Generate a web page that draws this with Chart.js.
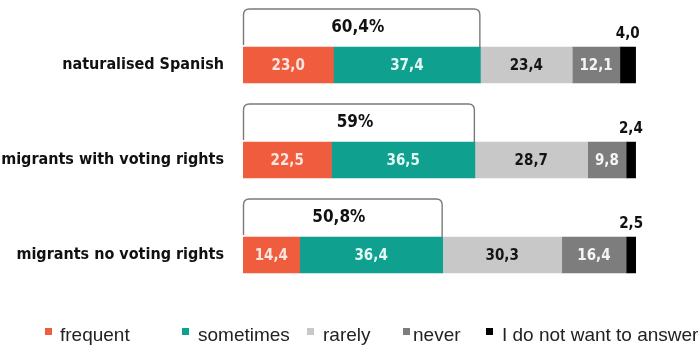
<!DOCTYPE html>
<html>
<head>
<meta charset="utf-8">
<script src="https://cdn.jsdelivr.net/npm/chart.js@4/dist/chart.umd.min.js"></script>
<style>
  html, body { margin: 0; padding: 0; background: #ffffff; }
  #chart { display: block; }
</style>
</head>
<body>
<canvas id="chart" width="699" height="345"></canvas>
<script>
// Survey groups and answer shares (%)
const categories = ['naturalised Spanish', 'migrants with voting rights', 'migrants no voting rights'];
const seriesLabels = ['frequent', 'sometimes', 'rarely', 'never', 'I do not want to answer'];
const frequent  = [23.0, 22.5, 14.4];
const sometimes = [37.4, 36.5, 36.4];
const rarely    = [23.4, 28.7, 30.3];
const never     = [12.1, 9.8, 16.4];
const noAnswer  = [4.0, 2.4, 2.5];

const seriesValues = [frequent, sometimes, rarely, never, noAnswer];
const seriesColors = ['#F05D3E', '#0FA08F', '#C8C8C8', '#7D7D7D', '#000000'];
const valueColors  = ['#FCE6DF', '#E4F8F4', '#151515', '#F4F4F4', '#111111'];

const boldFont = '"DejaVu Sans Condensed", "DejaVu Sans", sans-serif';

function fmt(v) {
  return v.toFixed(1).replace('.', ',');
}
function fmtTotal(v) {
  const r = Math.round(v * 10) / 10;
  return (Number.isInteger(r) ? String(r) : r.toFixed(1).replace('.', ',')) + '%';
}

// Numbers inside the segments, and the small last share written above the bar
const valueLabels = {
  id: 'valueLabels',
  afterDatasetsDraw(chart) {
    const ctx = chart.ctx;
    ctx.save();
    ctx.textAlign = 'center';
    ctx.textBaseline = 'middle';
    chart.data.datasets.forEach((ds, di) => {
      const meta = chart.getDatasetMeta(di);
      meta.data.forEach((bar, i) => {
        const v = ds.data[i];
        const cx = (bar.x + bar.base) / 2;
        ctx.font = 'bold 15px ' + boldFont;
        if (di === 4) {
          ctx.fillStyle = '#111111';
          ctx.fillText(fmt(v), cx, bar.y - bar.height / 2 - 13);
        } else {
          ctx.fillStyle = valueColors[di];
          ctx.fillText(fmt(v), cx, bar.y + 1);
        }
      });
    });
    ctx.restore();
  }
};

// Rounded bracket over "frequent + sometimes" with its combined share
const brackets = {
  id: 'brackets',
  afterDatasetsDraw(chart) {
    const ctx = chart.ctx;
    const xs = chart.scales.x;
    const meta = chart.getDatasetMeta(0);
    ctx.save();
    meta.data.forEach((bar, i) => {
      const total = frequent[i] + sometimes[i];
      const x0 = xs.getPixelForValue(0) + 0.5;
      const x1 = xs.getPixelForValue(total) - 0.5;
      const barTop = bar.y - bar.height / 2;
      const top = barTop - 38;
      const r = 6;
      ctx.strokeStyle = '#7A7A7A';
      ctx.lineWidth = 1.4;
      ctx.beginPath();
      ctx.moveTo(x0, barTop - 2);
      ctx.lineTo(x0, top + r);
      ctx.quadraticCurveTo(x0, top, x0 + r, top);
      ctx.lineTo(x1 - r, top);
      ctx.quadraticCurveTo(x1, top, x1, top + r);
      ctx.lineTo(x1, barTop);
      ctx.stroke();
      ctx.font = 'bold 17px ' + boldFont;
      ctx.fillStyle = '#111111';
      ctx.textAlign = 'center';
      ctx.textBaseline = 'middle';
      ctx.fillText(fmtTotal(total), (x0 + x1) / 2 - 4, barTop - 19);
    });
    ctx.restore();
  }
};

// Legend row along the bottom edge
const bottomLegend = {
  id: 'bottomLegend',
  afterDraw(chart) {
    const ctx = chart.ctx;
    const starts = [45, 182, 307, 403, 486];
    const gaps = [15, 16, 16, 10, 16];
    ctx.save();
    ctx.font = '19px "Liberation Sans", Arial, sans-serif';
    ctx.textBaseline = 'alphabetic';
    ctx.textAlign = 'left';
    seriesLabels.forEach((label, i) => {
      ctx.fillStyle = seriesColors[i];
      ctx.fillRect(starts[i], 328, 7, 7);
      ctx.fillStyle = '#222222';
      ctx.fillText(label, starts[i] + gaps[i], 341);
    });
    ctx.restore();
  }
};

new Chart(document.getElementById('chart'), {
  type: 'bar',
  data: {
    labels: categories,
    datasets: seriesLabels.map((label, i) => ({
      label: label,
      data: seriesValues[i],
      backgroundColor: seriesColors[i],
      borderWidth: 0,
      barThickness: 36
    }))
  },
  options: {
    indexAxis: 'y',
    responsive: false,
    animation: false,
    layout: { padding: { top: 17.5, bottom: 42.5, left: 0, right: 63 } },
    plugins: {
      legend: { display: false },
      tooltip: { enabled: false }
    },
    scales: {
      x: {
        stacked: true,
        min: 0,
        max: 100,
        display: false
      },
      y: {
        stacked: true,
        grid: { display: false, drawTicks: false },
        border: { display: false },
        afterFit(scale) {
          scale.width = 243;
          scale.paddingTop = 0;
          scale.paddingBottom = 0;
        },
        ticks: {
          padding: 19,
          color: '#111111',
          font: { family: boldFont, size: 16, weight: 'bold' }
        }
      }
    }
  },
  plugins: [valueLabels, brackets, bottomLegend]
});
</script>
</body>
</html>
